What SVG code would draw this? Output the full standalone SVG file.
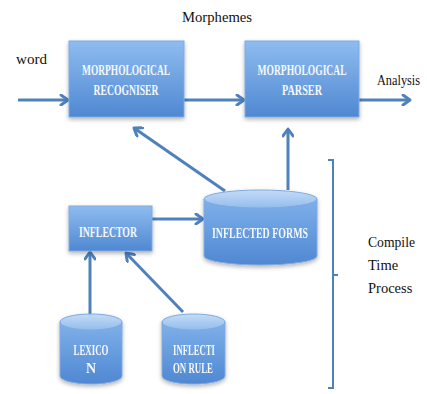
<svg xmlns="http://www.w3.org/2000/svg" width="427" height="394" viewBox="0 0 427 394">
<defs>
<linearGradient id="gBox" x1="0" y1="0" x2="0" y2="1">
<stop offset="0" stop-color="#8fbcef"/>
<stop offset="1" stop-color="#4f88d2"/>
</linearGradient>
<linearGradient id="gCyl" x1="0" y1="0" x2="0" y2="1">
<stop offset="0" stop-color="#7fb0ea"/>
<stop offset="1" stop-color="#4f88d2"/>
</linearGradient>
<linearGradient id="gTop" x1="0" y1="0" x2="0" y2="1">
<stop offset="0" stop-color="#c4dbf6"/>
<stop offset="1" stop-color="#94bdee"/>
</linearGradient>
<filter id="sh" x="-20%" y="-20%" width="140%" height="150%">
<feDropShadow dx="0" dy="2" stdDeviation="2" flood-color="#000" flood-opacity="0.3"/>
</filter>
<marker id="ah" markerWidth="12" markerHeight="12" viewBox="0 0 12 12" refX="10" refY="6" orient="auto" markerUnits="userSpaceOnUse">
<path d="M3,1 L10,6 L3,11" fill="none" stroke="#4f81bd" stroke-width="3" stroke-linecap="round" stroke-linejoin="round"/>
</marker>
</defs>
<style>
.box{fill:url(#gBox);stroke:#7eaae0;stroke-width:1;filter:url(#sh)}
.cyl{fill:url(#gCyl);stroke:#7eaae0;stroke-width:1}
.top{fill:url(#gTop);stroke:#7eaae0;stroke-width:1}
.bt{font-family:"Liberation Serif",serif;font-size:14px;font-weight:bold;fill:#f4f8fd;text-anchor:middle}
.lb{font-family:"Liberation Serif",serif;font-size:14.5px;fill:#111}
.c{fill:none;stroke:#4f81bd;stroke-width:3}
.ar{marker-end:url(#ah)}
</style>

<text class="lb" x="182" y="22" textLength="70" lengthAdjust="spacingAndGlyphs">Morphemes</text>
<text class="lb" x="16" y="64" textLength="31" lengthAdjust="spacingAndGlyphs">word</text>
<text class="lb" x="377" y="85" textLength="43" lengthAdjust="spacingAndGlyphs">Analysis</text>

<g id="connectors">
<line class="c ar" x1="18" y1="100" x2="68" y2="100"/>
<line class="c ar" x1="184" y1="100" x2="244" y2="100"/>
<line class="c ar" x1="359" y1="100" x2="410" y2="100"/>
<line class="c ar" x1="225" y1="191" x2="134" y2="128"/>
<line class="c ar" x1="288" y1="190" x2="288" y2="129"/>
<line class="c ar" x1="152" y1="219" x2="203" y2="219"/>
<line class="c ar" x1="90" y1="315" x2="90" y2="252"/>
<line class="c ar" x1="183" y1="312" x2="126" y2="253"/>
</g>

<g id="recogniser">
<rect class="box" x="69" y="41" width="115" height="76"/>
<text class="bt" x="126" y="75" textLength="88" lengthAdjust="spacingAndGlyphs">MORPHOLOGICAL</text>
<text class="bt" x="126" y="95" textLength="65" lengthAdjust="spacingAndGlyphs">RECOGNISER</text>
</g>

<g id="parser">
<rect class="box" x="245" y="41" width="114" height="76"/>
<text class="bt" x="302" y="75" textLength="89" lengthAdjust="spacingAndGlyphs">MORPHOLOGICAL</text>
<text class="bt" x="302" y="95" textLength="40" lengthAdjust="spacingAndGlyphs">PARSER</text>
</g>

<g id="inflector">
<rect class="box" x="69" y="206" width="83" height="45"/>
<text class="bt" x="108" y="237" textLength="58" lengthAdjust="spacingAndGlyphs">INFLECTOR</text>
</g>

<g id="inflected-forms" filter="url(#sh)">
<path class="cyl" d="M204,199 L204,256 A56.5,9 0 0 0 317,256 L317,199 Z"/>
<ellipse class="top" cx="260.5" cy="199" rx="56.5" ry="9"/>
<text class="bt" x="260" y="238" textLength="96" lengthAdjust="spacingAndGlyphs">INFLECTED FORMS</text>
</g>

<g id="lexicon" filter="url(#sh)">
<path class="cyl" d="M60,322 L60,376 A31,8 0 0 0 122,376 L122,322 Z"/>
<ellipse class="top" cx="91" cy="322" rx="31" ry="8"/>
<text class="bt" x="91" y="355" textLength="35" lengthAdjust="spacingAndGlyphs">LEXICO</text>
<text class="bt" x="91" y="373">N</text>
</g>

<g id="inflection-rule" filter="url(#sh)">
<path class="cyl" d="M162,322 L162,376 A31.5,8 0 0 0 225,376 L225,322 Z"/>
<ellipse class="top" cx="193.5" cy="322" rx="31.5" ry="8"/>
<text class="bt" x="194" y="355" textLength="42" lengthAdjust="spacingAndGlyphs">INFLECTI</text>
<text class="bt" x="193" y="373" textLength="40" lengthAdjust="spacingAndGlyphs">ON RULE</text>
</g>

<g id="bracket">
<path d="M328,160 L333,160 L333,388 L328,388 M333,275 L338,275" fill="none" stroke="#4f81bd" stroke-width="2"/>
<text class="lb" x="368" y="247" textLength="47" lengthAdjust="spacingAndGlyphs">Compile</text>
<text class="lb" x="368" y="270">Time</text>
<text class="lb" x="368" y="293">Process</text>
</g>
</svg>
